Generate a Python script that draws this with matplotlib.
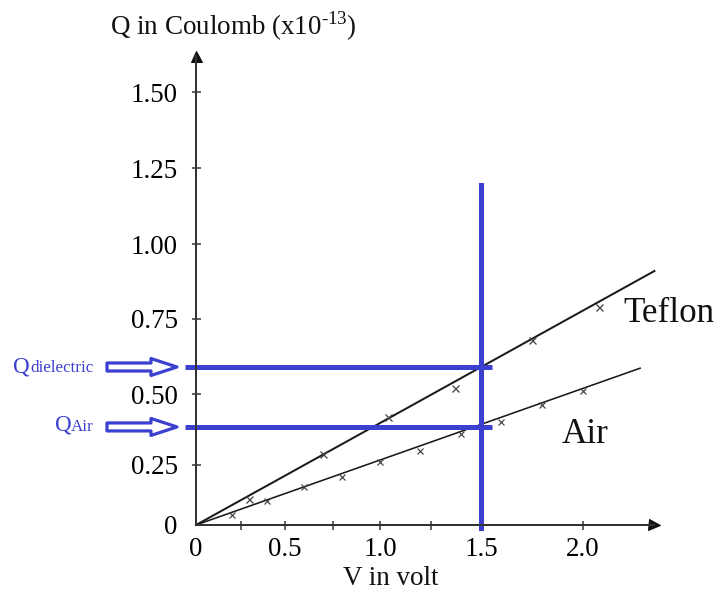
import numpy as np
import matplotlib as mpl
mpl.rcParams['font.family'] = 'Liberation Serif'
mpl.rcParams['mathtext.fontset'] = 'custom'
mpl.rcParams['mathtext.rm'] = 'Liberation Serif'
import matplotlib.pyplot as plt

# measured charge vs voltage
v_air = [0.2, 0.4, 0.6, 0.8, 1.0, 1.2, 1.4, 1.6, 1.8, 2.0]
q_air = [0.04, 0.10, 0.16, 0.20, 0.26, 0.30, 0.36, 0.40, 0.46, 0.51]
v_teflon = [0.3, 0.7, 1.04, 1.37, 1.75, 2.08]
q_teflon = [0.11, 0.29, 0.42, 0.52, 0.68, 0.79]

# straight fits through the origin
v_fit_teflon = [0, 2.35]
q_fit_teflon = [0, 0.91]
v_fit_air = [0, 2.28]
q_fit_air = [0, 0.586]

# reading at 1.5 V
v_read = 1.5
q_read_dielectric = 0.59
q_read_air = 0.384

xticks = [0, 0.5, 1.0, 1.5, 2.0]
xticklabels = ['0', '0.5', '1.0', '1.5', '2.0']
xminor = [0.25, 0.75, 1.25]
yticks = [0, 0.25, 0.5, 0.75, 1.0, 1.25, 1.5]
yticklabels = ['0', '0.25', '0.50', '0.75', '1.00', '1.25', '1.50']

# the original axes are hand drawn, spacing is not even
x_knots = [-1, 0, 0.5, 1.0, 1.5, 2.0, 3.0]
x_px = [-178, 0, 89, 184, 285, 387, 591]
y_knots = [-1, 0, 0.25, 0.5, 0.75, 1.0, 1.25, 1.5, 2.0]
y_px = [-240, 0, 60, 131, 206, 281, 357, 433, 585]

def fx(v):
    return np.interp(v, x_knots, x_px)
def ix(p):
    return np.interp(p, x_px, x_knots)
def fy(q):
    return np.interp(q, y_knots, y_px)
def iy(p):
    return np.interp(p, y_px, y_knots)

blue = '#3c40d0'
axc = '#333333'

W, H = 719, 594
fig = plt.figure(figsize=(W/72, H/72), dpi=72)
ax = fig.add_axes([196/W, 69/H, 458/W, 469/H])
ax.set_xscale('function', functions=(fx, ix))
ax.set_yscale('function', functions=(fy, iy))
ax.set_xlim(0, float(ix(458)))
ax.set_ylim(0, float(iy(469)))

ax.spines[['top', 'right']].set_visible(False)
for s in ['left', 'bottom']:
    ax.spines[s].set_linewidth(2)
    ax.spines[s].set_color(axc)
ax.plot(1, 0, '>', color='#111', ms=11, transform=ax.transAxes, clip_on=False)
ax.plot(0, 1, '^', color='#111', ms=11, transform=ax.transAxes, clip_on=False)

ax.set_xticks(xticks)
ax.set_xticklabels(xticklabels)
ax.set_xticks(xminor, minor=True)
ax.set_yticks(yticks)
ax.set_yticklabels(yticklabels)
ax.tick_params(which='both', direction='inout', length=9, width=1.5, color=axc)
ax.tick_params(axis='x', labelsize=27, pad=7)
ax.tick_params(axis='y', labelsize=27, pad=14)
ax.xaxis.get_major_ticks()[0].tick1line.set_visible(False)
ax.yaxis.get_major_ticks()[0].tick1line.set_visible(False)

# fits and points
ax.plot(v_fit_teflon, q_fit_teflon, color='#1a1a1a', lw=2, clip_on=False)
ax.plot(v_fit_air, q_fit_air, color='#1a1a1a', lw=1.6, clip_on=False)
ax.plot(v_teflon, q_teflon, 'x', color='#444', ms=7, mew=1.3)
ax.plot(v_air, q_air, 'x', color='#444', ms=6, mew=1.2)

# reading lines
ax.plot([v_read, v_read], [-0.0125, 1.194], color=blue, lw=5, clip_on=False)
for q in [q_read_dielectric, q_read_air]:
    ax.plot([-0.062, 1.552], [q, q], color=blue, lw=5, clip_on=False,
            solid_capstyle='butt')
    ax.annotate('', xy=(-0.107, q), xytext=(-0.5, q),
                arrowprops=dict(arrowstyle='simple,head_length=2.6,head_width=1.7,tail_width=0.8',
                                fc='white', ec=blue, lw=3.2, shrinkA=0, shrinkB=0),
                annotation_clip=False)

yt = ax.get_yaxis_transform()
ax.annotate('Q', xy=(0, q_read_dielectric), xycoords=yt, xytext=(-183, -5),
            textcoords='offset points', fontsize=23, color=blue, va='baseline')
ax.annotate('dielectric', xy=(0, q_read_dielectric), xycoords=yt, xytext=(-166, -5),
            textcoords='offset points', fontsize=17, color=blue, va='baseline')
ax.annotate('Q', xy=(0, q_read_air), xycoords=yt, xytext=(-141, -4),
            textcoords='offset points', fontsize=23, color=blue, va='baseline')
ax.annotate('Air', xy=(0, q_read_air), xycoords=yt, xytext=(-125, -4),
            textcoords='offset points', fontsize=17, color=blue, va='baseline')

fig.text(110/W, 1 - 35/H, r'Q in Coulomb (x10$^{\text{-13}}$)', fontsize=27,
         ha='left', va='baseline', color='#111')
fig.text(391/W, 1 - 585/H, 'V in volt', fontsize=27, ha='center', va='baseline',
         color='#111')
fig.text(623/W, 1 - 322/H, 'Teflon', fontsize=35, ha='left', va='baseline', color='#111')
fig.text(562/W, 1 - 443/H, 'Air', fontsize=35, ha='left', va='baseline', color='#111')

fig.savefig('out.png', dpi=72)
